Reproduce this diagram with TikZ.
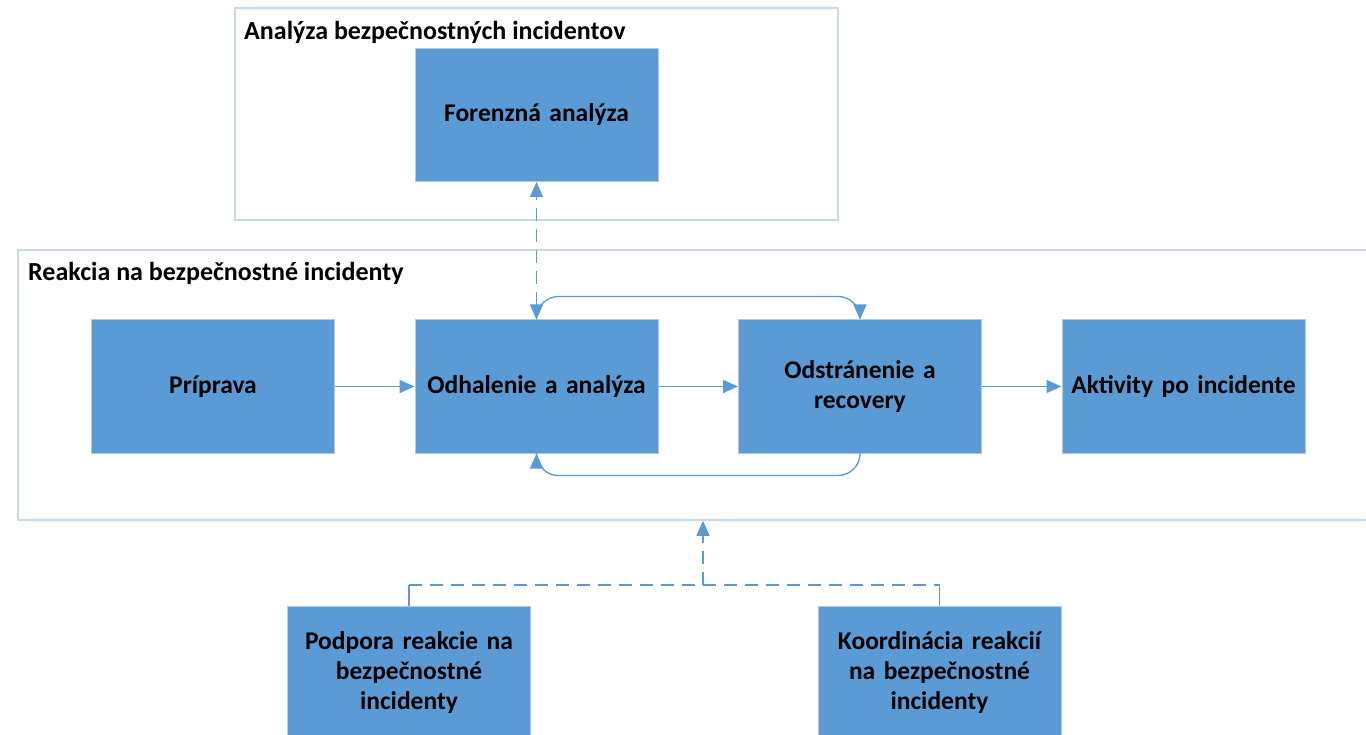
\documentclass[tikz,border=0pt]{standalone}
\usepackage{fontspec}
\setmainfont{Carlito}
\usetikzlibrary{arrows.meta,calc}
\definecolor{boxfill}{HTML}{5B9BD5}
\definecolor{boxline}{HTML}{B7C8DA}
\definecolor{contline}{HTML}{C9D8EC}
\definecolor{arrowc}{HTML}{5B9BD5}
\tikzset{
  procbox/.style={draw=boxline, line width=1pt, fill=boxfill, minimum width=243pt, minimum height=133pt, inner sep=0pt, align=center, font=\fontsize{25.5}{30}\selectfont\bfseries, text width=236pt},
  container/.style={draw=contline, line width=1.5pt, fill=white, inner sep=0pt},
  ctitle/.style={anchor=west, inner sep=0pt, font=\fontsize{26}{30}\selectfont\bfseries},
  flow/.style={draw=arrowc, line width=1.3pt, -{Triangle[length=15pt,width=13pt]}},
  flowline/.style={draw=arrowc, line width=1.3pt},
  dashline/.style={dash pattern=on 13pt off 8pt}
}
\begin{document}
\begin{tikzpicture}[x=1pt,y=-1pt]
\useasboundingbox (0,0) rectangle (1366,735);
\clip (0,0) rectangle (1366,735);
\fill[white] (0,0) rectangle (1366,735);
% containers
\node[container, minimum width=603pt, minimum height=212pt] (anal) at (536.5,114) {};
\node[container, minimum width=1352pt, minimum height=270pt] (reak) at (694,385) {};
\node[ctitle] (analt) at (244,32) {Analýza bezpečnostných incidentov};
\node[ctitle] (reakt) at (28,273) {Reakcia na bezpečnostné incidenty};
% boxes
\node[procbox] (for) at (536.5,115) {Forenzná analýza};
\node[procbox] (pri) at (213,386.5) {Príprava};
\node[procbox] (odh) at (536.5,386.5) {Odhalenie a analýza};
\node[procbox] (ods) at (860,386.5) {Odstránenie a\\recovery};
\node[procbox] (akt) at (1183.5,386.5) {Aktivity po incidente};
\node[procbox] (pod) at (409,672.5) {Podpora reakcie na\\bezpečnostné\\incidenty};
\node[procbox] (koo) at (939.5,672.5) {Koordinácia reakcií\\na bezpečnostné\\incidenty};
% connectors
\draw[flow] (pri) -- (odh);
\draw[flow] (odh) -- (ods);
\draw[flow] (ods) -- (akt);
\draw[flow, rounded corners=22pt] (odh.north) |- ($(ods.north)+(0,-23)$) -- (ods.north);
\draw[flow, rounded corners=22pt] (ods.south) -- ++(0,22) -| (odh.south);
\draw[flow, dashline, {Triangle[length=15pt,width=13pt]}-{Triangle[length=15pt,width=13pt]}] (odh.north) -- (for.south);
\coordinate (join) at (703,585);
\coordinate (jl) at (pod.north |- join);
\coordinate (jr) at (koo.north |- join);
\draw[flowline] (pod.north) -- (jl);
\draw[flowline] (koo.north) -- (jr);
\draw[flowline, dashline] (jl) -- (jr);
\draw[flow, dashline] (join) -- (join |- reak.south);
\end{tikzpicture}
\end{document}
